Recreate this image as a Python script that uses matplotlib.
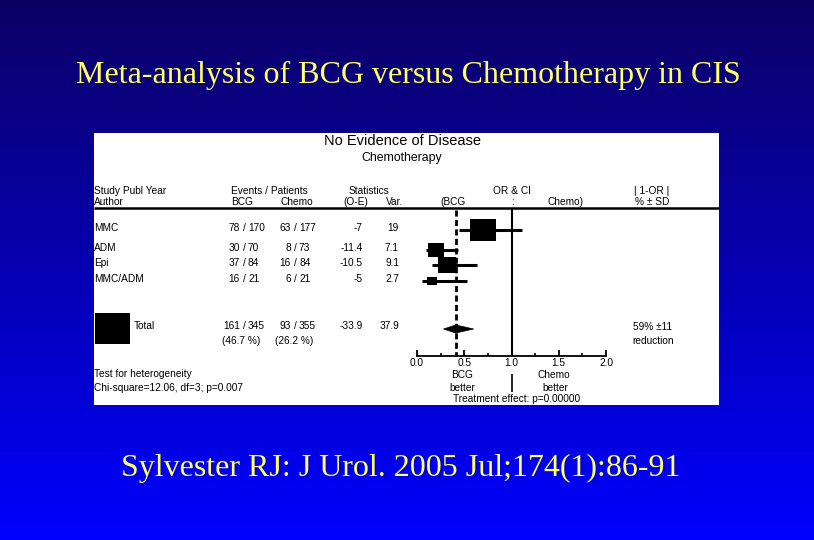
import numpy as np
import matplotlib
matplotlib.use("Agg")
import matplotlib.pyplot as plt
from matplotlib.patches import Rectangle, Polygon
from matplotlib.ticker import MultipleLocator

# ---------------- data ----------------
studies = ["MMC", "ADM", "Epi", "MMC/ADM"]
bcg_events = [78, 30, 37, 16]
bcg_patients = [170, 70, 84, 21]
chemo_events = [63, 8, 16, 6]
chemo_patients = [177, 73, 84, 21]
o_minus_e = ["-7", "-11.4", "-10.5", "-5"]
variance = [19, 7.1, 9.1, 2.7]
odds_ratio = [0.70, 0.20, 0.32, 0.16]
ci_low = [0.44, 0.10, 0.16, 0.05]
ci_high = [1.11, 0.43, 0.63, 0.53]

total_bcg = (161, 345)
total_chemo = (93, 355)
total_pct = ("(46.7 %)", "(26.2 %)")
total_oe = "-33.9"
total_var = 37.9
total_or = 0.41
total_ci = (0.28, 0.60)
axis_ticks = [0.0, 0.5, 1.0, 1.5, 2.0]
tick_labels = ["0.0", "0.5", "1.0", "1.5", "2.0"]

title = "Meta-analysis of BCG versus Chemotherapy in CIS"
citation = "Sylvester RJ: J Urol. 2005 Jul;174(1):86-91"

# ---------------- figure ----------------
W, H = 814, 540
fig = plt.figure(figsize=(W / 100, H / 100), dpi=100)
tax = fig.add_axes([0, 0, 1, 1])
tax.set_xlim(0, W)
tax.set_ylim(H, 0)
tax.axis("off")

# background gradient
t = np.linspace(0, 1, 256)[:, None]
top = np.array([12, 0, 100]) / 255
bot = np.array([0, 0, 255]) / 255
grad = top[None, None, :] * (1 - t[..., None]) + bot[None, None, :] * t[..., None]
grad = np.repeat(grad, 2, axis=1)
tax.imshow(grad, extent=[0, W, H, 0], aspect="auto", zorder=0)

serif = ["Liberation Serif", "DejaVu Serif"]
sans = ["Liberation Sans", "DejaVu Sans"]
yellow = "#FFFF66"
tax.text(408, 75, title, fontsize=23, family=serif, color=yellow,
         ha="center", va="center")
tax.text(401, 468, citation, fontsize=23, family=serif, color=yellow,
         ha="center", va="center")

# white panel
PX0, PX1, PY0, PY1 = 94, 719, 133, 405
tax.add_patch(Rectangle((PX0, PY0), PX1 - PX0, PY1 - PY0, facecolor="white",
                        edgecolor="none", zorder=1))

fs = 7.3


def txt(x, yc, s, ha="left", size=fs):
    # yc = visual centre of capitals
    tax.text(x, yc + size * 0.5, s, fontsize=size, family=sans, color="black",
             ha=ha, va="baseline", zorder=3)


txt(403, 140, "No Evidence of Disease", ha="center", size=10.5)
txt(402, 157, "Chemotherapy", ha="center", size=8.8)

txt(94, 190, "Study Publ Year")
txt(94, 201, "Author")
txt(269, 190, "Events / Patients", ha="center")
txt(242, 201, "BCG", ha="center")
txt(297, 201, "Chemo", ha="center")
txt(369, 190, "Statistics", ha="center")
txt(356, 201, "(O-E)", ha="center")
txt(395, 201, "Var.", ha="center")
txt(512, 190, "OR & CI", ha="center")
txt(453, 201, "(BCG", ha="center")
txt(512, 201, ":", ha="center")
txt(565, 201, "Chemo)", ha="center")
txt(652, 190, "| 1-OR |", ha="center")
txt(652, 201, "% \u00b1 SD", ha="center")

tax.plot([PX0, PX1], [208, 208], color="black", lw=1.8, zorder=3,
         solid_capstyle="butt")

row_y = [227, 247, 262, 278]
BS, CS = 244, 295  # slash positions


def frac(xs, yc, a, b):
    txt(xs, yc, "/", ha="center")
    txt(xs - 4, yc, str(a), ha="right")
    txt(xs + 4, yc, str(b), ha="left")


for i, name in enumerate(studies):
    y = row_y[i]
    txt(94, y, name)
    frac(BS, y, bcg_events[i], bcg_patients[i])
    frac(CS, y, chemo_events[i], chemo_patients[i])
    txt(363, y, o_minus_e[i], ha="right")
    txt(399, y, f"{variance[i]:g}", ha="right")

# total rows
tax.add_patch(Rectangle((95, 313), 35, 31, facecolor="black", edgecolor="none",
                        zorder=3))
txt(134, 325, "Total")
frac(BS, 325, *total_bcg)
frac(CS, 325, *total_chemo)
txt(241, 340, total_pct[0], ha="center")
txt(294, 340, total_pct[1], ha="center")
txt(363, 325, total_oe, ha="right")
txt(399, 325, f"{total_var:g}", ha="right")
txt(653, 326, "59% \u00b111", ha="center")
txt(653, 340, "reduction", ha="center")
txt(94, 373, "Test for heterogeneity")
txt(94, 387, "Chi-square=12.06, df=3; p=0.007")
txt(462, 374, "BCG", ha="center")
txt(462, 387, "better", ha="center")
txt(554, 374, "Chemo", ha="center")
txt(555, 387, "better", ha="center")
txt(517, 398, "Treatment effect: p=0.00000", ha="center")

# ---------------- forest axes ----------------
X0, X1 = 417, 606
fax = fig.add_axes([X0 / W, 1 - PY1 / H, (X1 - X0) / W, (PY1 - PY0) / H])
fax.set_xlim(0, 2)
fax.set_ylim(PY1, PY0)
fax.patch.set_visible(False)
for s in ["top", "left", "right"]:
    fax.spines[s].set_visible(False)
fax.spines["bottom"].set_position(("data", 356))
fax.spines["bottom"].set_linewidth(1.3)
fax.set_yticks([])
fax.set_xticks(axis_ticks)
fax.set_xticklabels(tick_labels, family=sans, fontsize=fs)
fax.xaxis.set_minor_locator(MultipleLocator(0.25))
fax.tick_params(axis="x", which="major", direction="in", length=4, width=1.3,
                pad=1.5)
fax.tick_params(axis="x", which="minor", direction="in", length=2.5, width=1.2)

pxu = (X1 - X0) / 2.0  # pixels per OR unit

fax.vlines(1.0, 208, 356, color="black", lw=1.5, zorder=2)
fax.vlines(1.0, 374, 392, color="black", lw=1.2, zorder=2)
fax.vlines(total_or, 210, 356, color="black", lw=2.0, linestyles=(0, (2.2, 1.2)),
           zorder=4)

for i in range(len(studies)):
    yc = row_y[i] + 3
    fax.hlines(yc, ci_low[i], ci_high[i], color="black", lw=2.2, zorder=3)
    side = np.sqrt(variance[i])
    w = 6.0 * side / pxu
    h = 5.2 * side
    fax.add_patch(Rectangle((odds_ratio[i] - w / 2, yc - h / 2), w, h,
                            facecolor="black", edgecolor="none", zorder=3))

dy = 329
fax.add_patch(Polygon([(total_ci[0], dy), (total_or, dy - 4), (total_ci[1], dy),
                       (total_or, dy + 4)], closed=True, facecolor="black",
                      edgecolor="black", lw=0.5, zorder=3))

fig.savefig("out.png", dpi=100)
